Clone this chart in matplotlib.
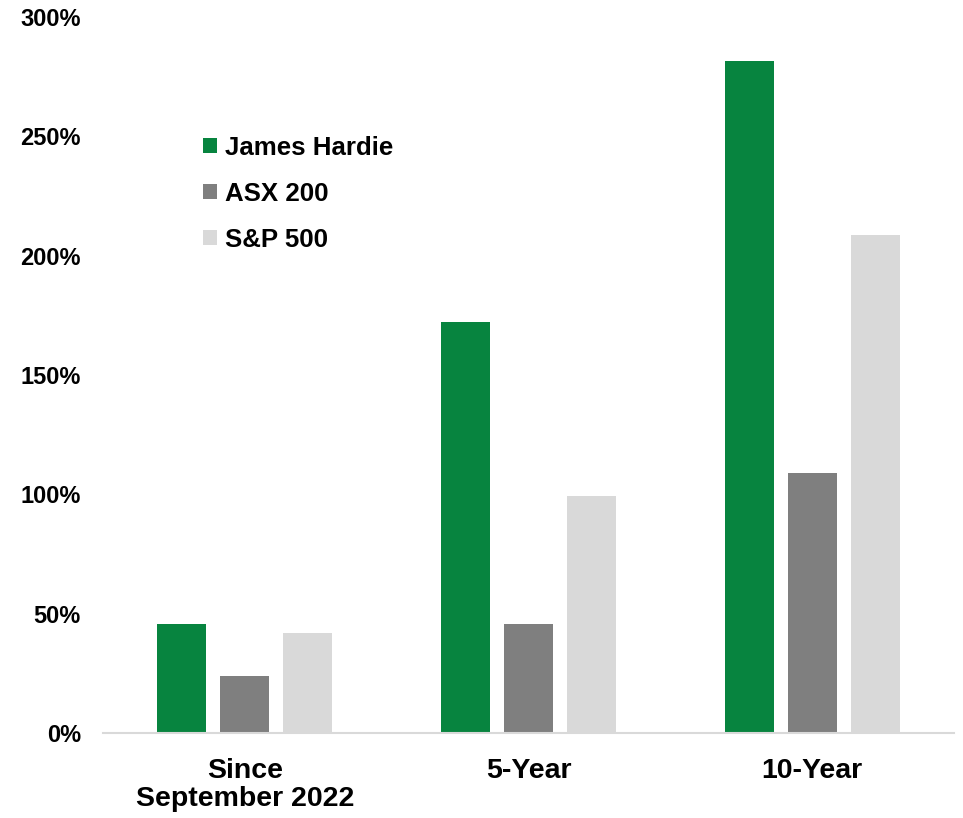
import numpy as np
import matplotlib
matplotlib.use("Agg")
import matplotlib.pyplot as plt

plt.rcParams['font.family'] = ['Liberation Sans', 'DejaVu Sans']
plt.rcParams['font.weight'] = 'bold'

categories = ["Since\nSeptember 2022", "5-Year", "10-Year"]
series = ["James Hardie", "ASX 200", "S&P 500"]
james_hardie = [45.6, 172.4, 281.6]
asx_200 = [23.8, 45.6, 108.8]
sp_500 = [41.8, 99.2, 208.8]
colors = ["#07843F", "#7F7F7F", "#D9D9D9"]
yticks = [0, 50, 100, 150, 200, 250, 300]

fig = plt.figure(figsize=(9.63, 8.18), dpi=100)
ax = fig.add_axes([103 / 963, 1 - 733 / 818, 851 / 963, 716 / 818])

x = np.arange(len(categories))
width = 0.173
step = 0.222
for i, (name, vals) in enumerate(zip(series, [james_hardie, asx_200, sp_500])):
    ax.bar(x + (i - 1) * step, vals, width, color=colors[i], label=name, zorder=2)

ax.set_xlim(-0.5, 2.5)
ax.set_ylim(0, 300)
ax.set_yticks(yticks)
ax.set_yticklabels([f"{v}%" for v in yticks], fontsize=17, fontweight='bold')
ax.set_xticks(x)
ax.set_xticklabels(categories, fontsize=20.5, fontweight='bold', linespacing=1.12)

for s in ["top", "right", "left"]:
    ax.spines[s].set_visible(False)
ax.spines["bottom"].set_color("#D9D9D9")
ax.spines["bottom"].set_linewidth(1.5)
ax.tick_params(axis='y', length=0, pad=16)
ax.tick_params(axis='x', length=0, pad=18)

ax.legend(loc='upper left', bbox_to_anchor=(0.1175, 0.834), frameon=False,
          prop={'size': 18.6, 'weight': 'bold'}, handlelength=0.54, handleheight=0.54,
          handletextpad=0.31, labelspacing=0.85, borderpad=0, borderaxespad=0)

fig.savefig("out.png", dpi=100)
